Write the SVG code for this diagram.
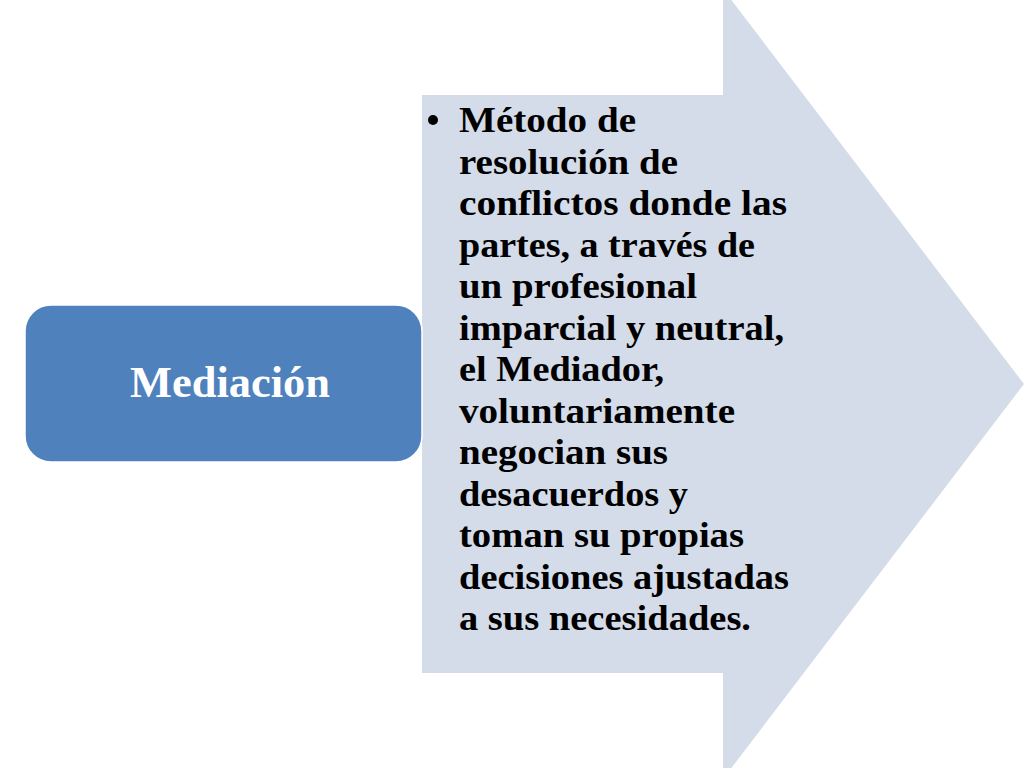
<svg xmlns="http://www.w3.org/2000/svg" width="1024" height="768" viewBox="0 0 1024 768">
<style>
.body{font-family:"Liberation Serif","DejaVu Serif",serif;font-weight:bold;font-size:36px;fill:#000;}
.title{font-family:"Liberation Serif","DejaVu Serif",serif;font-weight:bold;font-size:45px;fill:#fff;}
</style>
<rect width="1024" height="768" fill="#fff"/>
<g id="arrow">
<polygon points="422,95 723,95 723,-11 1024,384 723,779 723,673 422,673" fill="#D4DCE9"/>
<circle cx="433" cy="120" r="5" fill="#000"/>
<text class="body">
<tspan x="459" y="132" textLength="177" lengthAdjust="spacingAndGlyphs">Método de</tspan>
<tspan x="459" y="173.5" textLength="219" lengthAdjust="spacingAndGlyphs">resolución de</tspan>
<tspan x="459" y="215" textLength="328" lengthAdjust="spacingAndGlyphs">conflictos donde las</tspan>
<tspan x="459" y="256.5" textLength="296" lengthAdjust="spacingAndGlyphs">partes, a través de</tspan>
<tspan x="459" y="298" textLength="238" lengthAdjust="spacingAndGlyphs">un profesional</tspan>
<tspan x="459" y="339.5" textLength="325" lengthAdjust="spacingAndGlyphs">imparcial y neutral,</tspan>
<tspan x="459" y="381" textLength="205" lengthAdjust="spacingAndGlyphs">el Mediador,</tspan>
<tspan x="459" y="422.5" textLength="276" lengthAdjust="spacingAndGlyphs">voluntariamente</tspan>
<tspan x="459" y="464" textLength="209" lengthAdjust="spacingAndGlyphs">negocian sus</tspan>
<tspan x="459" y="505.5" textLength="229" lengthAdjust="spacingAndGlyphs">desacuerdos y</tspan>
<tspan x="459" y="547" textLength="285" lengthAdjust="spacingAndGlyphs">toman su propias</tspan>
<tspan x="459" y="588.5" textLength="330" lengthAdjust="spacingAndGlyphs">decisiones ajustadas</tspan>
<tspan x="459" y="630" textLength="292" lengthAdjust="spacingAndGlyphs">a sus necesidades.</tspan>
</text>
</g>
<g id="mediacion">
<rect x="25" y="305" width="397" height="157" rx="26" ry="26" fill="#4F81BD" stroke="#fff" stroke-width="1.5"/>
<text class="title" x="230" y="397" text-anchor="middle" textLength="200" lengthAdjust="spacingAndGlyphs">Mediación</text>
</g>
<g id="connectors"/>
</svg>
